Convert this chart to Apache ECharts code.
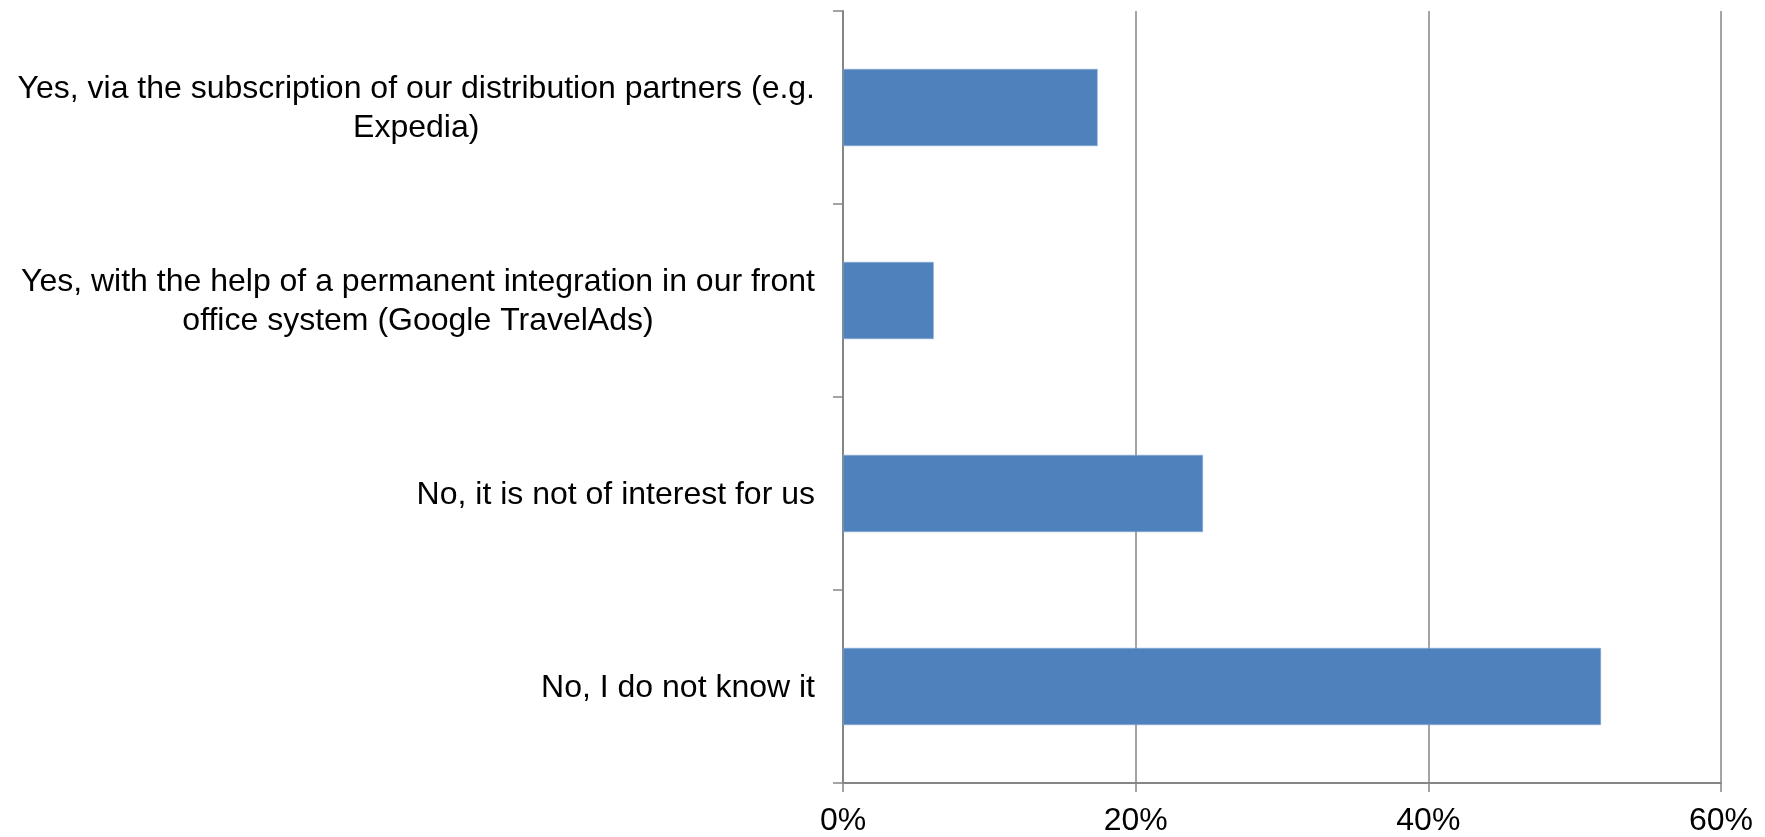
<!DOCTYPE html>
<html>
<head>
<meta charset="utf-8">
<script src="https://cdn.jsdelivr.net/npm/echarts@6/dist/echarts.min.js"></script>
<style>
  html, body { margin: 0; padding: 0; background: #ffffff; }
  #chart { width: 1765px; height: 837px; }
</style>
</head>
<body>
<div id="chart"></div>
<script>
// Survey answers, top to bottom
const categories = [
  ['Yes, via the subscription of our distribution partners (e.g.', 'Expedia)'],
  ['Yes, with the help of a permanent integration in our front', 'office system (Google TravelAds)'],
  ['No, it is not of interest for us'],
  ['No, I do not know it']
];
// Share of respondents, in percent
const shares = [17.4, 6.2, 24.6, 51.8];
// Value axis ticks
const tickMin = 0;
const tickMax = 60;
const tickStep = 20;

const gridColor = '#868686';
const fontFamily = '"Liberation Sans", Arial, Helvetica, sans-serif';

const chart = echarts.init(document.getElementById('chart'), null, { renderer: 'canvas' });

chart.setOption({
  backgroundColor: '#ffffff',
  animation: false,
  grid: { left: 843, right: 44, top: 11, bottom: 51, containLabel: false },
  xAxis: {
    type: 'value',
    min: tickMin,
    max: tickMax,
    interval: tickStep,
    axisLine: { show: true, lineStyle: { color: gridColor, width: 2 } },
    axisTick: { show: true, length: 9, lineStyle: { color: gridColor, width: 1.5 } },
    splitLine: { show: true, lineStyle: { color: gridColor, width: 1.5 } },
    axisLabel: {
      formatter: '{value}%',
      color: '#000000',
      fontFamily: fontFamily,
      fontSize: 32,
      margin: 22
    }
  },
  yAxis: {
    type: 'category',
    inverse: true,
    data: categories.map(lines => lines.join('\n')),
    axisLine: { show: true, lineStyle: { color: gridColor, width: 2 } },
    axisTick: { show: true, length: 10, alignWithLabel: false, lineStyle: { color: gridColor, width: 1.5 } },
    splitLine: { show: false },
    axisLabel: {
      margin: 28,
      formatter: function (value) {
        return value.split('\n').map(line => '{c|' + line + '}').join('\n');
      },
      rich: {
        c: {
          align: 'center',
          color: '#000000',
          fontFamily: fontFamily,
          fontSize: 32,
          lineHeight: 39,
          padding: [3, 0, 0, 0]
        }
      }
    }
  },
  series: [{
    type: 'bar',
    data: shares,
    barWidth: '40%',
    itemStyle: { color: '#4F81BD', borderColor: '#8faed6', borderWidth: 0.5 }
  }]
});
</script>
</body>
</html>
